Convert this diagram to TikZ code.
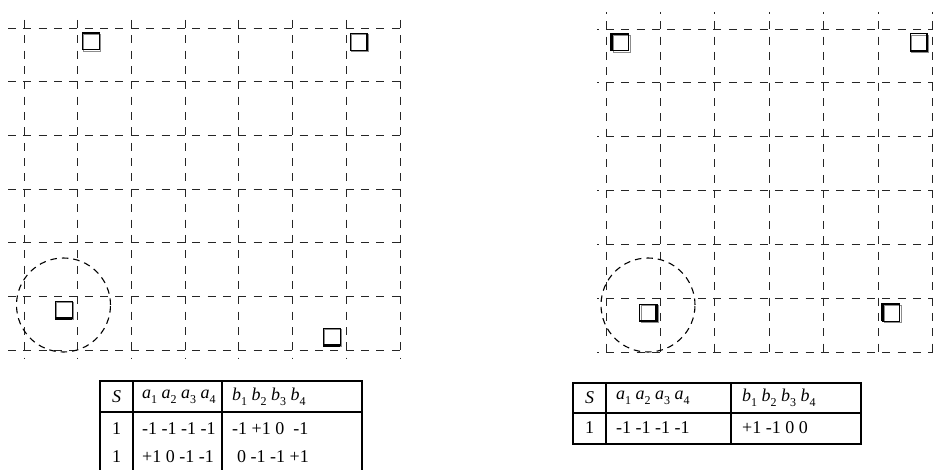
\documentclass[tikz,border=0pt]{standalone}
\usepackage{fontspec}
\setmainfont{Liberation Serif}
\newcommand\sbs[2]{\textit{#1}\raisebox{-0.28em}{\fontsize{12}{12}\selectfont #2}}
\begin{document}
\begin{tikzpicture}[x=1pt,y=-1pt,
  gridline/.style={black!85, line width=0.9pt, dash pattern=on 8pt off 7.35pt},
  ring/.style={black, line width=1.1pt, dash pattern=on 6.5pt off 5pt},
  sqblack/.style={black, line width=1pt},
  sqgray/.style={black!45, line width=0.9pt},
  sqthick/.style={black, line width=2.6pt},
  tab/.style={black, line width=1.5pt},
  cell/.style={inner sep=0pt, font=\fontsize{18}{18}\selectfont}]
\useasboundingbox (0,0) rectangle (933,470);
% ---------------- left grid
\foreach \j in {0,...,6}
  \draw[gridline] (8,{28+53.67*\j}) -- (400,{28+53.67*\j});
\foreach \i in {0,...,7}
  \draw[gridline] ({24+53.71*\i},20) -- ({24+53.71*\i},359);
% ---------------- right grid
\foreach \j in {0,...,6}
  \draw[gridline, dash phase=6.35pt] (597,{29+53.83*\j}) -- (934,{29+53.83*\j});
\foreach \i in {0,...,6}
  \draw[gridline, dash phase=6.05pt] ({606+54.42*\i},12) -- ({606+54.42*\i},352);
% ---------------- circles
\node[draw, circle, ring, minimum size=94pt, inner sep=0pt] (cl) at (63.5,305) {};
\node[draw, circle, ring, minimum size=94pt, inner sep=0pt] (cr) at (648,305) {};
% ---------------- squares
\coordinate (s1) at (90.5,41.5);
\coordinate (s2) at (358.5,42);
\coordinate (s3) at (63.5,310);
\coordinate (s4) at (331.5,337);
\coordinate (s5) at (620,42.5);
\coordinate (s6) at (918.5,42.5);
\coordinate (s7) at (648,312.5);
\coordinate (s8) at (891,312.5);
\foreach \c in {s1,s2,s3,s4,s5,s6,s7,s8}{
  \draw[sqgray] ([shift={(-7,-7.5)}]\c) rectangle ([shift={(10,9.5)}]\c);
  \draw[sqblack] ([shift={(-8.5,-8.5)}]\c) rectangle ([shift={(8.5,8.5)}]\c);
}
\draw[sqthick] ([shift={(-8.5,-8.5)}]s1) -- ([shift={(8.5,-8.5)}]s1);
\draw[sqthick] ([shift={(8.5,-8.5)}]s2) -- ([shift={(8.5,8.5)}]s2);
\draw[sqthick] ([shift={(-8.5,8.5)}]s3) -- ([shift={(8.5,8.5)}]s3);
\draw[sqthick] ([shift={(-8.5,8.5)}]s4) -- ([shift={(8.5,8.5)}]s4);
\draw[sqthick] ([shift={(-8.5,8.5)}]s5) -- ([shift={(-8.5,-8.5)}]s5) -- ([shift={(8.5,-8.5)}]s5);
\draw[sqthick] ([shift={(-8.5,8.5)}]s6) -- ([shift={(8.5,8.5)}]s6) -- ([shift={(8.5,-8.5)}]s6);
\draw[sqthick] ([shift={(-8.5,8.5)}]s7) -- ([shift={(8.5,8.5)}]s7) -- ([shift={(8.5,-8.5)}]s7);
\draw[sqthick] ([shift={(-8.5,8.5)}]s8) -- ([shift={(-8.5,-8.5)}]s8) -- ([shift={(8.5,-8.5)}]s8);
% ---------------- left table
\draw[tab] (100,471) -- (100,381) -- (362,381) -- (362,471);
\draw[tab] (100,412) -- (362,412);
\draw[tab] (133,381) -- (133,471);
\draw[tab] (222,381) -- (222,471);
\node[cell] (lhS) at (116.5,397) {\textit{S}};
\node[cell, anchor=west] (lhA) at (142,397) {\sbs{a}{1} \sbs{a}{2} \sbs{a}{3} \sbs{a}{4}};
\node[cell, anchor=west] (lhB) at (232,397) {\sbs{b}{1} \sbs{b}{2} \sbs{b}{3} \sbs{b}{4}};
\node[cell] (l1S) at (116.5,429) {1};
\node[cell, anchor=west] (l1A) at (142,429) {-1 -1 -1 -1};
\node[cell, anchor=west] (l1B) at (232,429) {-1 +1 0\ \ -1};
\node[cell] (l2S) at (116.5,457) {1};
\node[cell, anchor=west] (l2A) at (142,457) {+1 0 -1 -1};
\node[cell, anchor=west] (l2B) at (237,457) {0 -1 -1 +1};
% ---------------- right table
\draw[tab] (573,383) rectangle (861,444);
\draw[tab] (573,413) -- (861,413);
\draw[tab] (606,383) -- (606,444);
\draw[tab] (731,383) -- (731,444);
\node[cell] (rhS) at (589.5,398) {\textit{S}};
\node[cell, anchor=west] (rhA) at (616,398) {\sbs{a}{1} \sbs{a}{2} \sbs{a}{3} \sbs{a}{4}};
\node[cell, anchor=west] (rhB) at (742,398) {\sbs{b}{1} \sbs{b}{2} \sbs{b}{3} \sbs{b}{4}};
\node[cell] (r1S) at (589.5,428) {1};
\node[cell, anchor=west] (r1A) at (616,428) {-1 -1 -1 -1};
\node[cell, anchor=west] (r1B) at (742,428) {+1 -1 0 0};
\end{tikzpicture}
\end{document}
